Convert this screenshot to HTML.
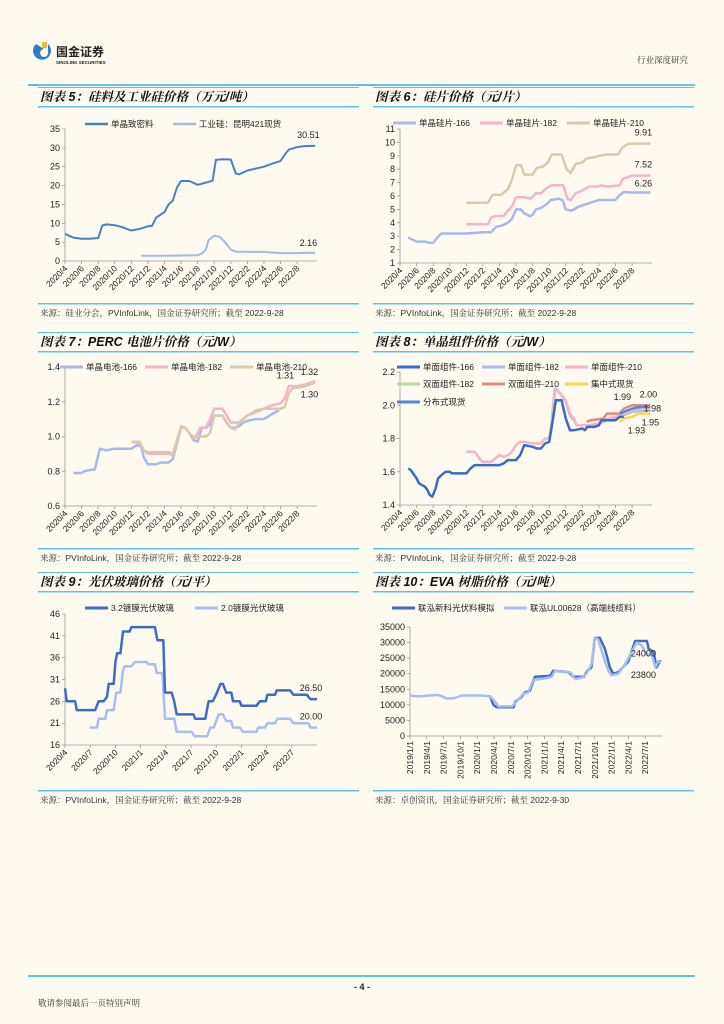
<!DOCTYPE html>
<html><head><meta charset="utf-8">
<style>
html,body{margin:0;padding:0;background:#fffaf0;}
body{width:724px;height:1024px;overflow:hidden;position:relative;font-family:"Liberation Sans","Noto Sans CJK SC",sans-serif;}
svg{position:absolute;left:0;top:0;}
.t{font-family:"Liberation Sans","Noto Sans CJK SC",sans-serif;fill:#222;}
.ttl{font-family:"Liberation Sans","Noto Serif CJK SC",serif;font-style:italic;font-weight:bold;font-size:12.5px;fill:#111;}
.src{font-family:"Liberation Sans","Noto Serif CJK SC",serif;font-size:8.5px;fill:#333;}
</style></head>
<body>
<svg id="pg" width="724" height="1024" viewBox="0 0 724 1024" xmlns="http://www.w3.org/2000/svg">
  <g>
    <path d="M36 44 a9 9 0 1 0 12 0 l0 8 a4 4 0 1 1 -4 -3 z" fill="#2f7fc4"/>
    <rect x="42" y="42" width="5" height="6" fill="#f2b532"/>
    <text x="56" y="56" class="t" font-size="12" font-weight="bold" fill="#222">国金证券</text>
    <text x="56" y="64" class="t" font-size="4.5" font-weight="bold">SINOLINK SECURITIES</text>
  </g>
  <text x="688" y="63" text-anchor="end" class="src" font-size="10">行业深度研究</text>
  <rect x="28" y="84" width="667" height="2" fill="#5bc3ea"/>
  <rect x="28" y="975" width="667" height="2" fill="#5bc3ea"/>
  <text x="362" y="990" text-anchor="middle" class="t" font-size="9" font-weight="bold">- 4 -</text>
  <text x="38" y="1006" class="src" font-size="9.5">敬请参阅最后一页特别声明</text>
</svg>
<script>
// ---------- chart 5 data ----------
const c5PolyMonths=[0,1,2,3,4,4.5,5,6,7,8,9,10,10.5,11,12,12.5,13,13.5,14,15,16,17,17.8,18.2,19,20,20.6,21,22,23,24,25,26,26.6,27,28,29,30.2];
const c5PolyValues=[7.2,6.2,5.9,5.9,6.1,9.4,9.7,9.5,8.9,8.1,8.5,9.2,9.3,11.5,13,15,16,19.5,21.2,21.2,20.2,20.8,21.3,26.8,27,26.9,23.2,23,24,24.5,25,25.8,26.5,28.5,29.5,30.2,30.5,30.51];
const c5IndMonths=[9.2,12,16,16.5,17,17.3,18,18.7,19.3,20,20.6,22,24,26,28,29,30.2];
const c5IndValues=[1.4,1.4,1.5,2,3,5.5,6.7,6.4,5,3,2.5,2.4,2.4,2.1,2.1,2.2,2.16];
const c5YTicks=[0,5,10,15,20,25,30,35];
const xLabels2m=["2020/4","2020/6","2020/8","2020/10","2020/12","2021/2","2021/4","2021/6","2021/8","2021/10","2021/12","2022/2","2022/4","2022/6","2022/8"];
// ---------- chart 6 data ----------
const c6W166Months=[1,1.3,2,3,3.5,4,4.5,5,8,10,11,11.3,11.6,12.3,13,13.5,14,14.6,15,15.7,16,16.4,17,17.7,18.2,19.2,19.6,20,20.6,21,21.5,22,23,24,25,26,26.4,27,28,30.2];
const c6W166Values=[2.9,2.8,2.6,2.6,2.5,2.5,2.9,3.2,3.2,3.3,3.3,3.5,3.7,3.8,4.0,4.3,5.0,5.0,4.7,4.5,4.6,5.0,5.1,5.4,5.7,5.8,5.7,5.0,4.9,5.0,5.2,5.3,5.5,5.7,5.7,5.7,6.0,6.3,6.26,6.26];
const c6W182Months=[8,10.6,11,11.5,12.5,13,13.5,14,15,15.8,16.4,17,17.7,18.3,19.7,20.2,20.6,21.2,22,22.8,23.8,24.3,25,26.5,26.9,27.5,28,30.2];
const c6W182Values=[3.9,3.9,4.4,4.5,4.5,4.9,5.2,5.9,5.9,5.8,6.2,6.2,6.6,6.8,6.8,5.8,5.7,6.2,6.4,6.7,6.7,6.8,6.7,6.8,7.3,7.4,7.52,7.52];
const c6W210Months=[8,10.6,11.2,12.2,13,13.5,14,14.6,15,16,16.5,17.3,17.8,18.3,19.5,20.1,20.6,21.2,22,22.5,23.5,24,25,26.3,26.8,27.5,28,30.2];
const c6W210Values=[5.5,5.5,6.1,6.1,6.5,7.2,8.3,8.3,7.6,7.6,8.1,8.2,8.5,9.1,9.1,8.0,7.7,8.4,8.5,8.8,8.9,9.0,9.1,9.1,9.6,9.9,9.9,9.91];
const c6YTicks=[1,2,3,4,5,6,7,8,9,10,11];
// ---------- chart 7 data ----------
const c7C166Months=[1,2,2.3,3.3,3.6,4,4.2,5,6,8,8.7,9.2,9.5,10,11,11.5,12.5,13,13.5,14,14.5,15,15.5,16,16.5,17,17.5,18,19,19.5,20,20.5,21,21.5,22,23,24,25,25.8];
const c7C166Values=[0.79,0.79,0.8,0.81,0.81,0.89,0.93,0.92,0.93,0.93,0.95,0.94,0.88,0.84,0.84,0.85,0.85,0.87,0.96,1.05,1.05,1.02,0.98,0.97,1.05,1.05,1.07,1.12,1.12,1.08,1.05,1.05,1.06,1.08,1.09,1.10,1.10,1.13,1.15];
const c7C182Months=[8,9,9.5,10,12.5,13,13.5,14,14.5,15,15.7,16.3,17,17.5,18,19,19.5,20,21,21.5,22,23,24,25,26,26.5,27,28,29,30.2];
const c7C182Values=[0.97,0.96,0.92,0.90,0.90,0.89,0.97,1.05,1.05,1.02,0.99,1.05,1.05,1.10,1.16,1.16,1.12,1.08,1.08,1.10,1.12,1.14,1.16,1.18,1.19,1.22,1.29,1.29,1.30,1.32];
const c7C210Months=[8,9,9.5,10,12.5,13,13.5,14,14.5,15,15.5,16,17,17.5,18,19,19.5,20,20.5,21,22,23,24,25,26,26.5,27,27.5,28,29,30.2];
const c7C210Values=[0.97,0.97,0.92,0.91,0.91,0.90,0.98,1.06,1.05,1.02,0.99,1.00,1.00,1.02,1.12,1.12,1.08,1.05,1.04,1.08,1.12,1.15,1.16,1.16,1.16,1.17,1.25,1.28,1.28,1.29,1.31];
const c7YTicks=[0.6,0.8,1.0,1.2,1.4];
// ---------- chart 8 data ----------
const c8M166Months=[1,1.3,2,2.3,3,3.3,3.6,3.9,4.3,4.6,5,5.5,6,6.3,8,8.5,9,12,12.5,13,14,14.5,15,16,16.5,17,17.5,18,18.4,18.8,19.5,20,20.5,21,22,22.3,22.6,23.5,24,24.3,26,26.5,27];
const c8M166Values=[1.62,1.61,1.56,1.53,1.51,1.49,1.46,1.45,1.50,1.56,1.58,1.60,1.60,1.59,1.59,1.62,1.64,1.64,1.65,1.67,1.67,1.70,1.76,1.75,1.74,1.74,1.77,1.78,1.90,2.03,2.03,1.92,1.85,1.85,1.86,1.85,1.87,1.87,1.88,1.91,1.91,1.93,1.93];
const c8M182Months=[18.3,18.7,19,19.5,20,20.5,21,21.3,23,24,25,26,27,28,30.2];
const c8M182Values=[1.92,2.10,2.09,2.06,2.02,1.94,1.91,1.88,1.88,1.89,1.91,1.92,1.94,1.96,1.97];
const c8M210Months=[8,9,9.3,9.7,10,11,11.5,12,12.5,13,13.5,14,14.5,15,16,17,17.5,18,18.3,18.7,19,19.5,20,20.5,21,21.3,23,24,25,26,27,28,29,30.2];
const c8M210Values=[1.72,1.72,1.70,1.67,1.66,1.66,1.68,1.70,1.69,1.70,1.72,1.76,1.78,1.78,1.77,1.77,1.80,1.80,1.90,2.08,2.09,2.06,2.03,1.95,1.92,1.88,1.88,1.89,1.92,1.93,1.95,1.97,1.98,1.98];
const c8B182Months=[26.5,27,28,29,30.2];
const c8B182Values=[1.95,1.96,1.98,1.99,1.99];
const c8B210Months=[22.5,23,24.5,25,26.5,27,28,30.2];
const c8B210Values=[1.90,1.91,1.92,1.95,1.95,1.98,2.00,2.00];
const c8CentralMonths=[26.5,27,28,28.7,30.2];
const c8CentralValues=[1.90,1.92,1.93,1.95,1.95];
const c8DistMonths=[26.5,27,28,29,30.2];
const c8DistValues=[1.95,1.96,1.98,1.99,1.99];
const c8YTicks=[1.4,1.6,1.8,2.0,2.2];
// ---------- chart 9 data ----------
const c9G32Months=[0,0.2,1.2,1.4,3.6,4,4.6,5,5.2,5.8,6,6.2,6.6,6.9,7.7,7.9,10.7,11,11.7,11.9,12.7,13,13.3,15.3,15.5,16.7,17.1,17.6,18.1,18.5,18.8,19.2,19.8,20,20.8,21,22.8,23.2,23.9,24.1,25,25.2,26.8,27.2,28.8,29.2,30];
const c9G32Values=[29,26,26,24,24,26,26,27,30,30,35,37,37,42,42,43,43,40,40,28,28,26,23,23,22,22,26,26,28,30,30,28,28,26,26,25,25,26,26,27.5,27.5,28.5,28.5,27.5,27.5,26.5,26.5];
const c9G20Months=[2.9,3.8,4,4.8,5,5.8,6.1,6.6,6.9,7.1,7.9,8.3,9.7,9.9,10.7,10.9,11.6,11.9,13,13.3,15.1,15.4,16.9,17.3,17.7,18.3,18.8,19.2,19.8,20,20.8,21.2,22.8,23,23.8,24.1,25,25.3,26.8,27.2,29,29.2,30];
const c9G20Values=[20,20,22,22,24,24,28,28,33,34,34,35,35,34.5,34.5,32.5,32.5,22,22,19,19,18,18,20,20,23,23,21.5,21.5,20,20,19,19,20,20,21,21,22,22,21,21,20,20];
const c9YTicks=[16,21,26,31,36,41,46];
const c9XLabels=["2020/4","2020/7","2020/10","2021/1","2021/4","2021/7","2021/10","2022/1","2022/4","2022/7"];
// ---------- chart 10 data ----------
const c10LightMonths=[0,1.5,4.8,5.7,6.5,8,9.2,12.8,14.3,15.2,15.8,18.2,19,20.2,21.1,22,24.1,25.3,25.9,27.7,28.6,29.5,30.7,31.5,32.4,33,33.6,34.3,34.8,35.4,36,37.2,38.4,39.6,40.5,41.4,42.3,43.2,43.8,44.3,44.9];
const c10LightValues=[13000,12700,13200,12800,12000,12200,13000,13000,12700,11000,9500,9500,11000,13500,14000,18000,18500,19000,21000,20500,20500,18300,18800,20000,23000,31500,31000,27000,24000,21000,19500,20000,23000,27000,30000,29000,26000,26000,22000,24000,23800];
const c10DarkMonths=[14.3,14.9,15.5,18.5,18.8,19.9,20.5,21.4,22.3,25,25.6,28.3,29.2,31,31.7,32.4,33,33.9,34.8,35.7,36.3,37.2,39,40.2,42.3,42.6,43.5,44,44.6,44.9];
const c10DarkValues=[12700,10000,9200,9200,11000,12500,14000,14500,19000,19300,21000,20500,19000,19000,21000,22000,31500,31500,28000,22000,20000,20500,24000,30500,30500,28000,27000,22000,24000,24000];
const c10YTicks=[0,5000,10000,15000,20000,25000,30000,35000];
const c10XLabels=["2019/1/1","2019/4/1","2019/7/1","2019/10/1","2020/1/1","2020/4/1","2020/7/1","2020/10/1","2021/1/1","2021/4/1","2021/7/1","2021/10/1","2022/1/1","2022/4/1","2022/7/1"];

const NS="http://www.w3.org/2000/svg";
const pg=document.getElementById('pg');
function mk(tag,attrs,parent,txt){const e=document.createElementNS(NS,tag);for(const k in attrs)e.setAttribute(k,attrs[k]);if(txt!==undefined)e.textContent=txt;(parent||pg).appendChild(e);return e;}

function panel(px,title,src,topY,srcY){
  const g=mk('g',{});
  
  
  const r1=mk('rect',{x:px,y:topY,width:321,height:1,fill:'#5bc3ea'},g);
  
  
  const t=mk('text',{x:px+2,y:topY+14,class:'ttl'},g,title);
  
  
  const r2=mk('rect',{x:px,y:topY+19,width:321,height:1.5,fill:'#5bc3ea'},g);
  
  
  const r3=mk('rect',{x:px,y:srcY,width:321,height:1.5,fill:'#5bc3ea'},g);
  
  
  const s=mk('text',{x:px+2,y:srcY+13,class:'src'},g,src);
  
  
}

function axes(o){
  o.sx=m=>o.x0+(m-o.xmin)/(o.xmax-o.xmin)*(o.x1-o.x0);
  o.sy=v=>o.y0-(v-o.ymin)/(o.ymax-o.ymin)*(o.y0-o.y1);
  const g=mk('g',{});
  
  
  const ya=mk('line',{x1:o.x0,y1:o.y1,x2:o.x0,y2:o.y0,stroke:'#999','stroke-width':0.8},g);
  
  
  const xa=mk('line',{x1:o.x0,y1:o.y0,x2:o.x1,y2:o.y0,stroke:'#999','stroke-width':0.8},g);
  
  
  o.yt.forEach(v=>{
    const yy=o.sy(v);
    mk('line',{x1:o.x0-3,y1:yy,x2:o.x0,y2:yy,stroke:'#999','stroke-width':0.8},g);
    const tl=mk('text',{x:o.x0-5,y:yy+3,'text-anchor':'end','font-size':9,class:'t'},g,o.yfmt?o.yfmt(v):String(v));
    
    
  });
  o.xl.forEach((lab,i)=>{
    const xx=o.sx(i*o.xstep);
    mk('line',{x1:xx,y1:o.y0,x2:xx,y2:o.y0+3,stroke:'#999','stroke-width':0.8},g);
    let tl;
    if(o.vert){tl=mk('text',{x:xx+3,y:o.y0+5,'text-anchor':'end','font-size':8.5,class:'t',transform:`rotate(-90 ${xx+3} ${o.y0+5})`},g,lab);}
    else{tl=mk('text',{x:xx+3,y:o.y0+8,'text-anchor':'end','font-size':8.5,class:'t',transform:`rotate(-45 ${xx+3} ${o.y0+8})`},g,lab);}
    
    
  });
  return o;
}
function series(o,ms,vs,color,w,name){
  const d=ms.map((m,i)=>(i?'L':'M')+o.sx(m).toFixed(1)+' '+o.sy(vs[i]).toFixed(1)).join(' ');
  const p=mk('path',{d:d,fill:'none',stroke:color,'stroke-width':w,'stroke-linejoin':'round'});
  
  
}
function endLabel(o,ms,vs,txt,dx,dy,name){
  const t=mk('text',{x:o.sx(ms[ms.length-1])+dx,y:o.sy(vs[vs.length-1])+dy,'font-size':9,class:'t','text-anchor':'middle'},pg,txt);
  
  
}
function legend(x,y,color,label,w){
  const l=mk('line',{x1:x,y1:y,x2:x+23,y2:y,stroke:color,'stroke-width':w||3});
  
  
  const t=mk('text',{x:x+26,y:y+3,'font-size':8.5,class:'t'},pg,label);
  
  
}

// panels
panel(38,'图表 5：硅料及工业硅价格（万元/吨）','来源：硅业分会，PVInfoLink，国金证券研究所；截至 2022-9-28',87,303);
panel(373,'图表 6：硅片价格（元/片）','来源：PVInfoLink，国金证券研究所；截至 2022-9-28',87,303);
panel(38,'图表 7：PERC 电池片价格（元/W）','来源：PVInfoLink，国金证券研究所；截至 2022-9-28',332,548);
panel(373,'图表 8：单晶组件价格（元/W）','来源：PVInfoLink，国金证券研究所；截至 2022-9-28',332,548);
panel(38,'图表 9：光伏玻璃价格（元/平）','来源：PVInfoLink，国金证券研究所；截至 2022-9-28',572,790);
panel(373,'图表 10：EVA 树脂价格（元/吨）','来源：卓创资讯，国金证券研究所；截至 2022-9-30',572,790);

// chart 5
const o5=axes({x0:65,x1:317,y0:261,y1:129,xmin:0,xmax:30.4,ymin:0,ymax:35,yt:c5YTicks,xl:xLabels2m,xstep:2});
series(o5,c5IndMonths,c5IndValues,'#9dbbec',2,'line-industrial-silicon');
series(o5,c5PolyMonths,c5PolyValues,'#4a80c4',2,'line-polysilicon');
endLabel(o5,c5PolyMonths,c5PolyValues,'30.51',-7,-8,'value-label-poly');
endLabel(o5,c5IndMonths,c5IndValues,'2.16',-7,-7,'value-label-industrial');
legend(85,124,'#4a80c4','单晶致密料',2.5);
legend(173,124,'#9dbbec','工业硅：昆明421现货',2.5);

// chart 6
const o6=axes({x0:400,x1:652,y0:263,y1:129,xmin:0,xmax:30.4,ymin:1,ymax:11,yt:c6YTicks,xl:xLabels2m,xstep:2});
series(o6,c6W210Months,c6W210Values,'#d8cba8',2.5,'line-wafer-210');
series(o6,c6W182Months,c6W182Values,'#f6b3c9',2.5,'line-wafer-182');
series(o6,c6W166Months,c6W166Values,'#a6b9ef',2.5,'line-wafer-166');
endLabel(o6,c6W210Months,c6W210Values,'9.91',-7,-8,'value-label-210');
endLabel(o6,c6W182Months,c6W182Values,'7.52',-7,-8,'value-label-182');
endLabel(o6,c6W166Months,c6W166Values,'6.26',-7,-6,'value-label-166');
legend(393,123,'#a6b9ef','单晶硅片-166');
legend(480,123,'#f6b3c9','单晶硅片-182');
legend(567,123,'#d8cba8','单晶硅片-210');

// chart 7
const o7=axes({x0:65,x1:317,y0:506,y1:367,xmin:0,xmax:30.4,ymin:0.6,ymax:1.4,yt:c7YTicks,xl:xLabels2m,xstep:2,yfmt:v=>v.toFixed(1)});
series(o7,c7C166Months,c7C166Values,'#a6b9ef',2.5,'line-cell-166');
series(o7,c7C182Months,c7C182Values,'#f6b3c9',2.5,'line-cell-182');
series(o7,c7C210Months,c7C210Values,'#d8cba8',2.5,'line-cell-210');
endLabel(o7,c7C182Months,c7C182Values,'1.32',-6,-6,'value-label-182');
endLabel(o7,c7C210Months,c7C210Values,'1.31',-30,-4,'value-label-210');
endLabel(o7,c7C210Months,c7C210Values,'1.30',-6,15,'value-label-166');
legend(60,367,'#a6b9ef','单晶电池-166');
legend(145,367,'#f6b3c9','单晶电池-182');
legend(230,367,'#d8cba8','单晶电池-210');

// chart 8
const o8=axes({x0:400,x1:652,y0:505,y1:372,xmin:0,xmax:30.4,ymin:1.4,ymax:2.2,yt:c8YTicks,xl:xLabels2m,xstep:2,yfmt:v=>v.toFixed(1)});
series(o8,c8M182Months,c8M182Values,'#a6c1ee',2.5,'line-mono-182');
series(o8,c8M210Months,c8M210Values,'#f6b3c9',2.5,'line-mono-210');
series(o8,c8B182Months,c8B182Values,'#b6dba0',2.5,'line-bifacial-182');
series(o8,c8B210Months,c8B210Values,'#e08a80',2.5,'line-bifacial-210');
series(o8,c8CentralMonths,c8CentralValues,'#ffd44f',2.5,'line-central-spot');
series(o8,c8DistMonths,c8DistValues,'#4e8bd9',2.5,'line-distributed-spot');
series(o8,c8M166Months,c8M166Values,'#3a6bc6',2.5,'line-mono-166');
endLabel(o8,c8B210Months,c8B210Values,'2.00',-2,-8,'value-label-2-00');
endLabel(o8,c8DistMonths,c8DistValues,'1.99',-28,-7,'value-label-1-99');
endLabel(o8,c8M210Months,c8M210Values,'1.98',2,3,'value-label-1-98');
endLabel(o8,c8CentralMonths,c8CentralValues,'1.95',0,12,'value-label-1-95');
endLabel(o8,c8CentralMonths,c8CentralValues,'1.93',-14,20,'value-label-1-93');
legend(397,367,'#3a6bc6','单面组件-166');
legend(482,367,'#a6c1ee','单面组件-182');
legend(565,367,'#f6b3c9','单面组件-210');
legend(397,384,'#b6dba0','双面组件-182');
legend(482,384,'#e08a80','双面组件-210');
legend(565,384,'#ffd44f','集中式现货');
legend(397,402,'#4e8bd9','分布式现货');

// chart 9
const o9=axes({x0:65,x1:317,y0:745,y1:614,xmin:0,xmax:30,ymin:16,ymax:46,yt:c9YTicks,xl:c9XLabels,xstep:3});
series(o9,c9G20Months,c9G20Values,'#a6bff0',2.5,'line-glass-2mm');
series(o9,c9G32Months,c9G32Values,'#3d6cc8',2.5,'line-glass-3-2mm');
endLabel(o9,c9G32Months,c9G32Values,'26.50',-6,-8,'value-label-3-2mm');
endLabel(o9,c9G20Months,c9G20Values,'20.00',-6,-8,'value-label-2mm');
legend(85,608,'#3d6cc8','3.2镀膜光伏玻璃');
legend(195,608,'#a6bff0','2.0镀膜光伏玻璃');

// chart 10
const o10=axes({x0:410,x1:662,y0:736,y1:627,xmin:0,xmax:45,ymin:0,ymax:35000,yt:c10YTicks,xl:c10XLabels,xstep:3,vert:true});
series(o10,c10DarkMonths,c10DarkValues,'#3d6cc8',2.5,'line-eva-pv-grade');
series(o10,c10LightMonths,c10LightValues,'#a6bff0',2.5,'line-eva-ul00628');
endLabel(o10,c10DarkMonths,c10DarkValues,'24000',-18,-5,'value-label-24000');
endLabel(o10,c10LightMonths,c10LightValues,'23800',-18,16,'value-label-23800');
legend(392,608,'#3d6cc8','联泓新科光伏料模拟');
legend(504,608,'#a6bff0','联泓UL00628（高端线缆料）');
</script>
</body></html>
